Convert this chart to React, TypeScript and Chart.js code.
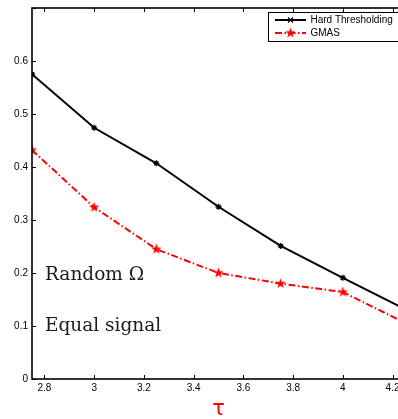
import React, { useEffect, useRef } from "react";
import { Chart, registerables } from "chart.js";

Chart.register(...registerables);

const tauValues = [2.75, 3, 3.25, 3.5, 3.75, 4, 4.25];
const hardThresholding = [0.575, 0.474, 0.407, 0.325, 0.251, 0.191, 0.132];
const gmas = [0.432, 0.324, 0.245, 0.2, 0.18, 0.164, 0.106];
const seriesLabels = ["Hard Thresholding", "GMAS"];
const annotations = ["Random Ω", "Equal signal"];
const xTitle = "τ";

function makePentagram(size: number, outer: number, inner: number, color: string) {
  const c = document.createElement("canvas");
  c.width = size;
  c.height = size;
  const ctx = c.getContext("2d")!;
  ctx.fillStyle = color;
  ctx.beginPath();
  for (let i = 0; i < 10; i++) {
    const r = i % 2 === 0 ? outer : inner;
    const a = -Math.PI / 2 + (i * Math.PI) / 5;
    const px = size / 2 + r * Math.cos(a);
    const py = size / 2 + r * Math.sin(a);
    if (i === 0) ctx.moveTo(px, py);
    else ctx.lineTo(px, py);
  }
  ctx.closePath();
  ctx.fill();
  return c;
}

export default function App() {
  const ref = useRef<HTMLCanvasElement | null>(null);

  useEffect(() => {
    const canvas = ref.current;
    if (!canvas) return;
    const star = makePentagram(13, 5.5, 2.2, "#ff0000");

    const framePlugin = {
      id: "frame",
      afterDraw(chart: any) {
        const ctx = chart.ctx as CanvasRenderingContext2D;
        const a = chart.chartArea;
        const xs = chart.scales.x;
        const ys = chart.scales.y;
        ctx.save();
        ctx.strokeStyle = "#000";
        ctx.lineWidth = 1;
        xs.ticks.forEach((t: any) => {
          const px = Math.round(xs.getPixelForValue(t.value)) + 0.5;
          ctx.beginPath();
          ctx.moveTo(px, a.bottom);
          ctx.lineTo(px, a.bottom - 4);
          ctx.moveTo(px, a.top);
          ctx.lineTo(px, a.top + 4);
          ctx.stroke();
        });
        ys.ticks.forEach((t: any) => {
          const py = Math.round(ys.getPixelForValue(t.value)) + 0.5;
          ctx.beginPath();
          ctx.moveTo(a.left, py);
          ctx.lineTo(a.left + 4, py);
          ctx.moveTo(a.right, py);
          ctx.lineTo(a.right - 4, py);
          ctx.stroke();
        });
        ctx.lineWidth = 1.6;
        ctx.strokeRect(a.left, a.top, a.right - a.left, a.bottom - a.top);

        ctx.fillStyle = "#1a1a1a";
        ctx.font = "18.5px 'DejaVu Serif'";
        ctx.textAlign = "left";
        ctx.textBaseline = "alphabetic";
        ctx.fillText(annotations[0], 45, 280);
        ctx.fillText(annotations[1], 45, 331);

        ctx.fillStyle = "#ff0000";
        ctx.font = "21px 'DejaVu Sans'";
        ctx.textAlign = "center";
        ctx.fillText(xTitle, (a.left + a.right) / 2, 415);
        ctx.textAlign = "left";

        const lx = 268;
        const ly = 12;
        const lw = 150;
        const lh = 29;
        ctx.fillStyle = "#fff";
        ctx.fillRect(lx, ly, lw, lh);
        ctx.strokeStyle = "#000";
        ctx.lineWidth = 1;
        ctx.strokeRect(lx + 0.5, ly + 0.5, lw, lh);
        const rows = [20, 33];
        chart.data.datasets.forEach((ds: any, i: number) => {
          const y = rows[i];
          ctx.save();
          ctx.strokeStyle = ds.borderColor;
          ctx.lineWidth = ds.borderWidth;
          ctx.setLineDash(ds.borderDash || []);
          ctx.beginPath();
          ctx.moveTo(275, y);
          ctx.lineTo(306, y);
          ctx.stroke();
          ctx.restore();
          if (i === 1) {
            ctx.drawImage(star, 290.5 - star.width / 2, y - star.height / 2);
          } else {
            ctx.save();
            ctx.strokeStyle = "#000";
            ctx.lineWidth = 1.2;
            ctx.beginPath();
            ctx.moveTo(288, y - 2.5);
            ctx.lineTo(293, y + 2.5);
            ctx.moveTo(293, y - 2.5);
            ctx.lineTo(288, y + 2.5);
            ctx.stroke();
            ctx.restore();
          }
          ctx.fillStyle = "#000";
          ctx.font = "10px 'Liberation Sans'";
          ctx.textBaseline = "middle";
          ctx.fillText(ds.label, 310.5, y + 0.5);
        });
        ctx.restore();
      },
    };

    const chart = new Chart(canvas, {
      type: "line",
      data: {
        datasets: [
          {
            label: seriesLabels[0],
            data: tauValues.map((x, i) => ({ x, y: hardThresholding[i] })),
            borderColor: "#000000",
            backgroundColor: "#000000",
            borderWidth: 2,
            pointStyle: "star",
            pointRadius: 3,
            pointBorderWidth: 1.3,
            pointBorderColor: "#000000",
            tension: 0,
          },
          {
            label: seriesLabels[1],
            data: tauValues.map((x, i) => ({ x, y: gmas[i] })),
            borderColor: "#ff0000",
            backgroundColor: "#ff0000",
            borderWidth: 2,
            borderDash: [7, 2.5, 1.5, 2.5],
            pointStyle: star as any,
            pointRadius: 6,
            tension: 0,
          },
        ],
      },
      options: {
        animation: false,
        responsive: false,
        layout: { padding: { left: 0, top: 4, right: 35, bottom: 0 } },
        plugins: {
          legend: { display: false },
          tooltip: { enabled: false },
        },
        scales: {
          x: {
            type: "linear",
            min: 2.75,
            max: 4.25,
            grid: { display: false, drawTicks: false },
            border: { display: false },
            ticks: {
              stepSize: 0.2,
              includeBounds: false,
              padding: 3,
              color: "#000",
              font: { family: "'Liberation Sans'", size: 10 },
              maxRotation: 0,
              autoSkip: false,
              callback: (v: any) => String(Number(Number(v).toFixed(2))),
            },
            afterFit: (s: any) => {
              s.height = 40;
              s.paddingLeft = 0;
              s.paddingRight = 0;
            },
          },
          y: {
            type: "linear",
            min: 0,
            max: 0.7,
            grid: { display: false, drawTicks: false },
            border: { display: false },
            ticks: {
              stepSize: 0.1,
              padding: 4,
              color: "#000",
              font: { family: "'Liberation Sans'", size: 10 },
              callback: (v: any) => (Number(v) > 0.65 ? "" : String(Number(Number(v).toFixed(2)))),
            },
            afterFit: (s: any) => {
              s.width = 32;
              s.paddingTop = 0;
              s.paddingBottom = 0;
            },
          },
        },
      },
      plugins: [framePlugin],
    });
    return () => chart.destroy();
  }, []);

  return (
    <div
      style={{
        position: "fixed",
        left: 0,
        top: 0,
        width: 398,
        height: 419,
        overflow: "hidden",
        background: "#fff",
      }}
    >
      <canvas ref={ref} width={440} height={419} style={{ display: "block" }} />
    </div>
  );
}
